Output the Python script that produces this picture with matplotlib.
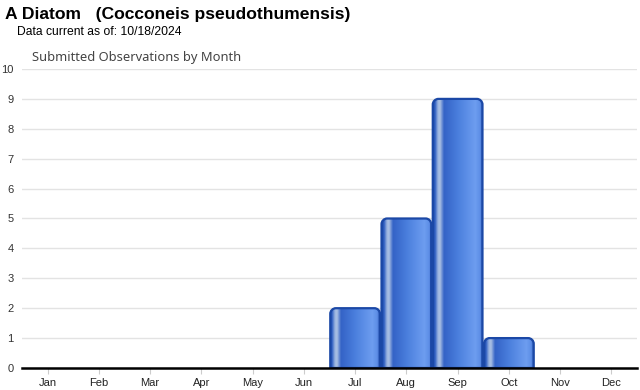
import numpy as np
import matplotlib
matplotlib.use("Agg")
import matplotlib.pyplot as plt
from matplotlib.path import Path
from matplotlib.patches import PathPatch
from matplotlib.colors import LinearSegmentedColormap

months = ["Jan", "Feb", "Mar", "Apr", "May", "Jun", "Jul", "Aug", "Sep", "Oct", "Nov", "Dec"]
counts = [0, 0, 0, 0, 0, 0, 2, 5, 9, 1, 0, 0]
y_ticks = list(range(0, 11))

title = "A Diatom   (Cocconeis pseudothumensis)"
subtitle = "Data current as of: 10/18/2024"
chart_title = "Submitted Observations by Month"

fig = plt.figure(figsize=(6.4, 3.9), dpi=100)
ax = fig.add_axes([22/640, 22/390, 615/640, 299/390])
ax.set_xlim(-0.5, 11.5)
ax.set_ylim(0, 10)

cmap = LinearSegmentedColormap.from_list("bar", [
    (0.0, "#1e4aa8"), (0.04, "#2f5fc2"), (0.10, "#9db6e0"), (0.14, "#a9bfe3"),
    (0.22, "#3463c6"), (0.5, "#4a7fdd"), (0.85, "#6d9df0"), (0.95, "#5c8de6"),
    (1.0, "#1e4aa8")])
grad = np.linspace(0, 1, 256).reshape(1, -1)

def rounded_top(x0, x1, y0, y1, rx, ry):
    k = 0.5523
    verts = [(x0, y0), (x0, y1 - ry),
             (x0, y1 - ry + k * ry), (x0 + rx - k * rx, y1), (x0 + rx, y1),
             (x1 - rx, y1),
             (x1 - rx + k * rx, y1), (x1, y1 - ry + k * ry), (x1, y1 - ry),
             (x1, y0), (x0, y0)]
    codes = [Path.MOVETO, Path.LINETO,
             Path.CURVE4, Path.CURVE4, Path.CURVE4,
             Path.LINETO,
             Path.CURVE4, Path.CURVE4, Path.CURVE4,
             Path.LINETO, Path.CLOSEPOLY]
    return Path(verts, codes)

width = 0.97
rx, ry = 0.11, 0.19
for i, v in enumerate(counts):
    if v <= 0:
        continue
    x0, x1 = i - width / 2, i + width / 2
    path = rounded_top(x0, x1, 0, v, rx, ry)
    patch = PathPatch(path, facecolor="none", edgecolor="#1b48a6", lw=1.6, zorder=4)
    ax.add_patch(patch)
    im = ax.imshow(grad, cmap=cmap, aspect="auto", extent=(x0, x1, 0, v),
                   zorder=3, interpolation="bilinear")
    im.set_clip_path(patch)

ax.set_xlim(-0.5, 11.5)
ax.set_ylim(0, 10)

ax.set_yticks(y_ticks)
ax.set_yticklabels([str(t) for t in y_ticks])
ax.set_xticks(range(12))
ax.set_xticklabels(months)
ax.grid(axis="y", color="#e3e3e3", lw=1, zorder=0)
ax.set_axisbelow(True)
for s in ["top", "right", "left"]:
    ax.spines[s].set_visible(False)
ax.spines["bottom"].set_color("black")
ax.spines["bottom"].set_linewidth(1.8)
ax.spines["bottom"].set_zorder(5)
ax.tick_params(axis="y", length=0, pad=6, labelsize=8, labelcolor="#333333")
ax.tick_params(axis="x", length=4, color="#cccccc", pad=3, labelsize=8, labelcolor="#222222")
for lab in ax.get_xticklabels() + ax.get_yticklabels():
    lab.set_family("Liberation Sans")

fig.text(5/640, 1 - 15/390, title, fontsize=12.6, fontweight="bold",
         family="Liberation Sans", va="center", ha="left", color="black")
fig.text(17/640, 1 - 32/390, subtitle, fontsize=8.7, family="Liberation Sans",
         va="center", ha="left", color="black")
fig.text(32/640, 1 - 57/390, chart_title, fontsize=9.3, family="Noto Sans",
         va="center", ha="left", color="#444444")

fig.savefig("out.png", dpi=100)
